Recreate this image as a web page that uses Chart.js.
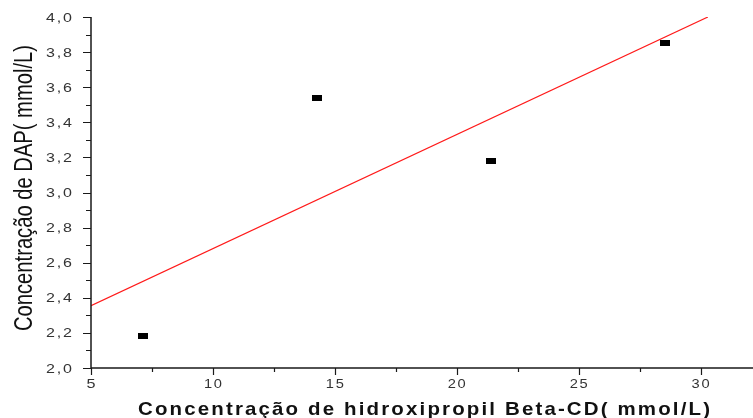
<!DOCTYPE html>
<html>
<head>
<meta charset="utf-8">
<script src="https://cdn.jsdelivr.net/npm/chart.js@4"></script>
<style>
  html, body { margin: 0; padding: 0; background: #fff; }
  #wrap { width: 753px; height: 418px; }
</style>
</head>
<body>
<div id="wrap"><canvas id="c" width="753" height="418"></canvas></div>
<script>
// Measured points
const xValues = [7.14, 14.28, 21.42, 28.56];
const yValues = [2.18, 3.54, 3.18, 3.85];
// Linear fit line end points
const fitX = [5, 30.3];
const fitY = [2.355, 4.0];
// Axis ranges and tick steps
const xMin = 5, xMax = 32.15, xStep = 5;
const yMin = 2.0, yMax = 4.0, yStep = 0.2;
const xTitle = 'Concentração de hidroxipropil Beta-CD( mmol/L)';
const yTitle = 'Concentração de DAP( mmol/L)';

// Black rectangular marker
const marker = document.createElement('canvas');
marker.width = 10; marker.height = 6;
const mctx = marker.getContext('2d');
mctx.fillStyle = '#000';
mctx.fillRect(0, 0, 10, 6);

const AXIS_COLOR = '#1a1a1a';
const LABEL_COLOR = '#333';
const LABEL_FONT = '13px "Liberation Sans", Arial, sans-serif';

// Draw text centred on (cx, cy) stretched to a given width
function fitText(ctx, text, cx, cy, width, spacing) {
  if ('letterSpacing' in ctx) ctx.letterSpacing = spacing + 'px';
  const w = ctx.measureText(text).width - (('letterSpacing' in ctx) ? spacing : 0);
  ctx.save();
  ctx.translate(cx, cy);
  ctx.scale(width / w, 1);
  ctx.fillText(text, -w / 2, 0);
  ctx.restore();
  if ('letterSpacing' in ctx) ctx.letterSpacing = '0px';
}

// Axis lines, major/minor ticks, tick labels and axis titles
const axesPlugin = {
  id: 'axesPlugin',
  afterDraw(chart) {
    const ctx = chart.ctx;
    const a = chart.chartArea;
    const xs = chart.scales.x, ys = chart.scales.y;
    ctx.save();
    ctx.strokeStyle = AXIS_COLOR;
    ctx.lineWidth = 1.5;
    ctx.beginPath();
    ctx.moveTo(a.left, a.top);
    ctx.lineTo(a.left, a.bottom);
    ctx.lineTo(a.right, a.bottom);
    ctx.stroke();

    ctx.lineWidth = 1.2;
    ctx.beginPath();
    const nY = Math.round((yMax - yMin) / (yStep / 2));
    for (let i = 0; i <= nY; i++) {
      const v = yMin + i * yStep / 2;
      const py = Math.round(ys.getPixelForValue(v)) + 0.5;
      const len = (i % 2 === 0) ? 8 : 5;
      ctx.moveTo(a.left - len, py);
      ctx.lineTo(a.left, py);
    }
    for (let i = 0; ; i++) {
      const v = xMin + i * xStep / 2;
      if (v > xMax) break;
      const px = Math.round(xs.getPixelForValue(v)) + 0.5;
      const len = (i % 2 === 0) ? 7 : 4;
      ctx.moveTo(px, a.bottom);
      ctx.lineTo(px, a.bottom + len);
    }
    ctx.stroke();

    // tick labels
    ctx.fillStyle = LABEL_COLOR;
    ctx.font = LABEL_FONT;
    ctx.textBaseline = 'middle';
    ctx.textAlign = 'left';
    for (let i = 0; i <= nY; i += 2) {
      const v = yMin + i * yStep / 2;
      const label = v.toFixed(1).replace('.', ',');
      const py = ys.getPixelForValue(v);
      fitText(ctx, label, 59, py + 1, 26, 1.5);
    }
    for (let v = xMin; v <= xMax; v += xStep) {
      const label = String(v);
      const px = xs.getPixelForValue(v);
      const w = label.length === 1 ? 9 : 18;
      fitText(ctx, label, px, 384, w, 1.5);
    }

    // x title: bold, letter-spaced
    ctx.fillStyle = '#111';
    ctx.textBaseline = 'alphabetic';
    ctx.font = 'bold 19px "Liberation Sans", Arial, sans-serif';
    fitText(ctx, xTitle, 424, 415, 572, 2);

    // y title: tall, condensed, rotated
    ctx.font = '26px "Liberation Sans", Arial, sans-serif';
    ctx.save();
    ctx.translate(32, 188);
    ctx.rotate(-Math.PI / 2);
    fitText(ctx, yTitle, 0, 0, 286, 0);
    ctx.restore();
    ctx.restore();
  }
};

new Chart(document.getElementById('c'), {
  type: 'scatter',
  data: {
    datasets: [
      {
        type: 'line',
        data: fitX.map((x, i) => ({ x, y: fitY[i] })),
        borderColor: '#ff1a1a',
        borderWidth: 1.2,
        pointRadius: 0,
        fill: false,
        tension: 0,
        order: 2
      },
      {
        data: xValues.map((x, i) => ({ x, y: yValues[i] })),
        pointStyle: marker,
        pointRadius: 5,
        order: 1
      }
    ]
  },
  options: {
    responsive: false,
    animation: false,
    devicePixelRatio: 1,
    layout: { autoPadding: false, padding: { top: 17, right: 0, left: 0, bottom: 0 } },
    plugins: { legend: { display: false }, tooltip: { enabled: false } },
    scales: {
      x: {
        type: 'linear',
        min: xMin, max: xMax,
        grid: { display: false, drawTicks: false },
        border: { display: false },
        ticks: { display: false },
        afterFit(scale) { scale.height = 50; }
      },
      y: {
        type: 'linear',
        min: yMin, max: yMax,
        grid: { display: false, drawTicks: false },
        border: { display: false },
        ticks: { display: false, stepSize: yStep },
        afterFit(scale) { scale.width = 91; }
      }
    }
  },
  plugins: [axesPlugin]
});
</script>
</body>
</html>
